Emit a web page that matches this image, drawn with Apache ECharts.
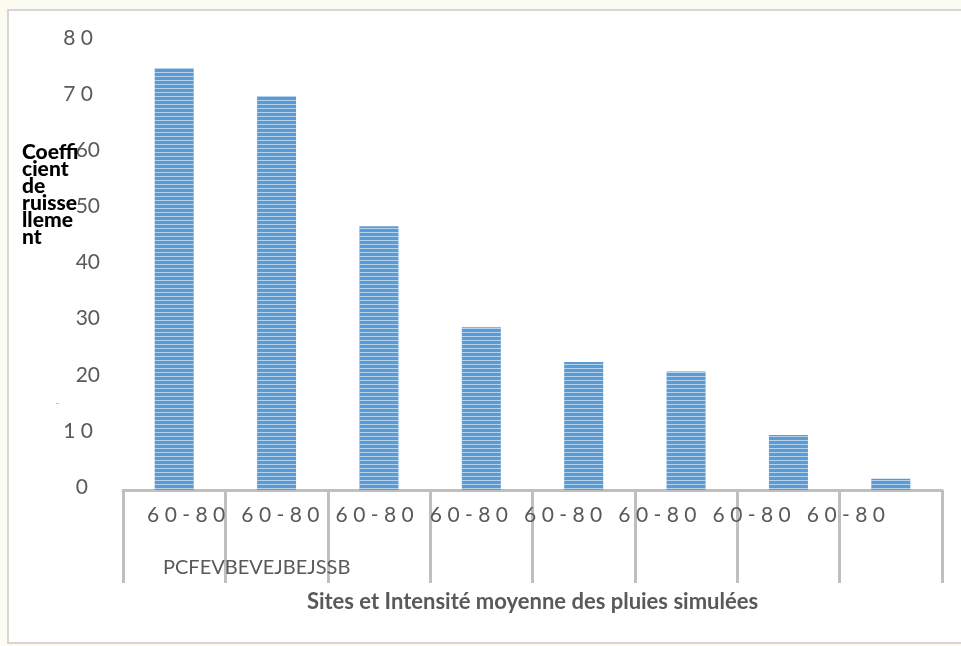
<!DOCTYPE html>
<html>
<head>
<meta charset="utf-8">
<script src="https://cdn.jsdelivr.net/npm/echarts@6/dist/echarts.min.js"></script>
<style>
    html, body { margin: 0; padding: 0; background: #fdfcf2; }
    #chart { width: 961px; height: 646px; }
</style>
</head>
<body>
<div id="chart"></div>
<script>
    // valeurs
    var sites = ['S1', 'S2', 'S3', 'S4', 'S5', 'S6', 'S7', 'S8'];
    var coefficients = [75.2, 70.2, 47.0, 29.0, 22.8, 21.1, 9.8, 2.0];
    var intensityLabels = ['6 0 - 8 0', '6 0 - 8 0', '6 0 - 8 0', '6 0 - 8 0', '6 0 - 8 0', '6 0 - 8 0', '6 0 - 8 0', '6 0 - 8 0'];
    var yTickLabels = ['0', '1 0', '20', '30', '40', '50', '60', '7 0', '8 0'];
    var groupLabel = 'PCFEVBEVEJBEJSSB';
    var xTitle = 'Sites et Intensité moyenne des pluies simulées';
    var yTitle = 'Coeffi\ncient\nde\nruisse\nlleme\nnt';

    var labelFont = { fontFamily: 'Lato', fontSize: 21, color: '#595959' };

    var myChart = echarts.init(document.getElementById('chart'));
    myChart.setOption({
        backgroundColor: '#fdfcf2',
        animation: false,
        graphic: [
            {
                type: 'rect',
                z: -10,
                shape: { x: 8, y: 10, width: 960, height: 633 },
                style: { fill: '#ffffff', stroke: '#d6d6d6', lineWidth: 2 }
            }
        ],
        title: [
            {
                text: yTitle,
                left: 17, top: 139,
                padding: 5,
                textStyle: { fontFamily: 'Lato', fontWeight: 900, fontSize: 21, lineHeight: 17, color: '#000000' }
            },
            {
                text: groupLabel,
                left: 158, top: 553,
                textStyle: { fontFamily: 'Lato', fontWeight: 'normal', fontSize: 20, color: '#595959' }
            },
            {
                text: '-',
                left: 50, top: 392,
                textStyle: { fontFamily: 'Lato', fontWeight: 'normal', fontSize: 12, color: '#bbbbbb' }
            }
        ],
        grid: [
            { left: 123, right: 19, top: 41, bottom: 156 },
            // grille fantôme pour les étiquettes décalées
            { left: 139, width: 754, top: 41, bottom: 156 }
        ],
        xAxis: [
            {
                type: 'category',
                gridIndex: 0,
                data: sites,
                name: xTitle,
                nameLocation: 'middle',
                nameGap: 101,
                nameTextStyle: { fontFamily: 'Lato', fontWeight: 'bold', fontSize: 22, color: '#595959' },
                axisLine: { lineStyle: { color: '#bfbfbf', width: 3 } },
                axisTick: { show: true, interval: 0, length: 93, lineStyle: { color: '#bfbfbf', width: 3 } },
                axisLabel: { show: false }
            },
            {
                type: 'category',
                gridIndex: 1,
                data: intensityLabels,
                axisLine: { show: false },
                axisTick: { show: false },
                axisLabel: Object.assign({ interval: 0, margin: 15 }, labelFont)
            }
        ],
        yAxis: [
            {
                type: 'value',
                gridIndex: 0,
                min: 0,
                max: 80,
                interval: 10,
                splitLine: { show: false },
                axisLine: { show: false },
                axisTick: { show: false },
                axisLabel: {
                    margin: 23,
                    formatter: function (v) {
                        var t = yTickLabels[Math.round(v / 10)];
                        if (t.length === 1) return '{z|' + t + '}';
                        if (t.indexOf(' ') >= 0) return '{s|' + t + '}';
                        return '{n|' + t + '}';
                    },
                    rich: {
                        n: Object.assign({ padding: [0, 0, 6, 0] }, labelFont),
                        s: Object.assign({ padding: [0, 7, 6, 0] }, labelFont),
                        z: Object.assign({ padding: [0, 12, 6, 0] }, labelFont)
                    }
                }
            },
            {
                type: 'value',
                gridIndex: 1,
                show: false,
                min: 0,
                max: 80
            }
        ],
        series: [
            {
                name: 'Coefficient de ruissellement',
                type: 'bar',
                xAxisIndex: 0,
                yAxisIndex: 0,
                barWidth: 39,
                itemStyle: {
                    color: '#5b9bd5',
                    decal: {
                        symbol: 'rect',
                        symbolSize: 1,
                        dashArrayX: [1, 0],
                        dashArrayY: [1, 3],
                        rotation: 0,
                        color: 'rgba(255,255,255,0.55)'
                    }
                },
                data: coefficients
            }
        ]
    });
</script>
</body>
</html>
